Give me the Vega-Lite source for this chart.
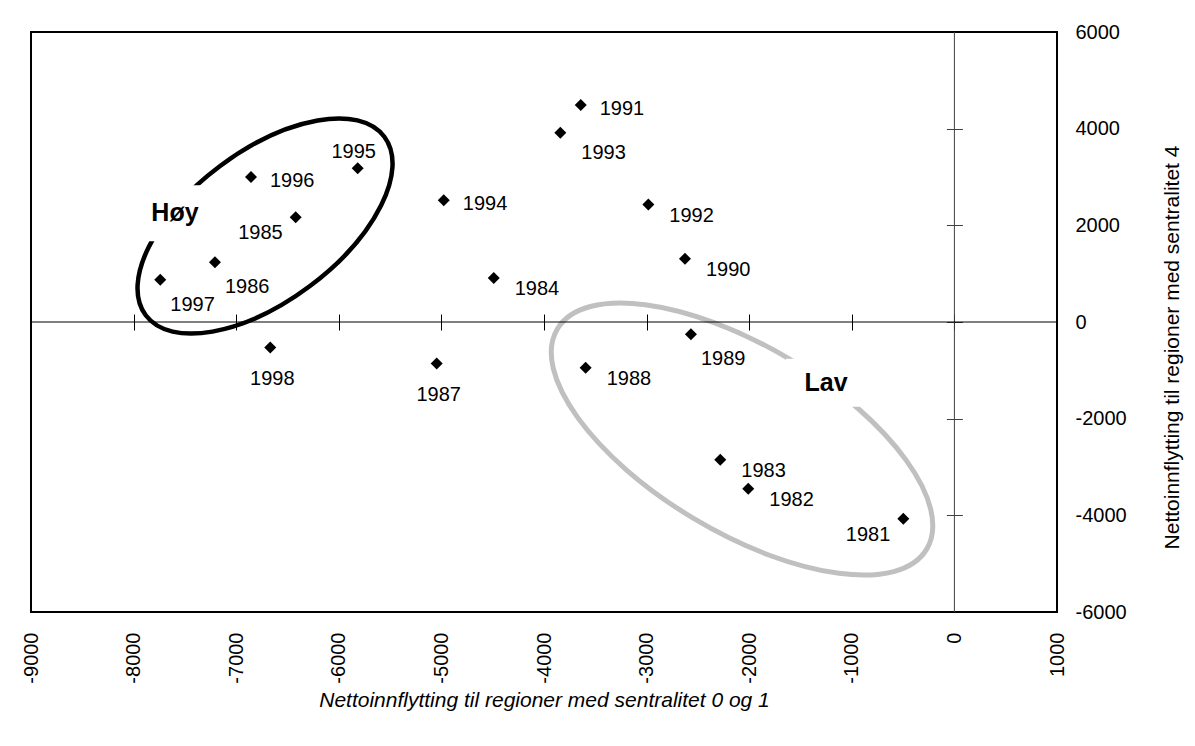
{
  "$schema": "https://vega.github.io/schema/vega-lite/v6.json",
  "width": 1026,
  "height": 580,
  "autosize": {"type": "none"},
  "padding": {"left": 31, "top": 32, "right": 138, "bottom": 134},
  "background": "white",
  "config": {
    "view": {"stroke": "black", "strokeWidth": 2, "fill": "white"},
    "font": "Liberation Sans, Arial, sans-serif"
  },
  "datasets": {
    "points": [
      {"year": "1981", "x": -498, "y": -4069, "pos": "SW"},
      {"year": "1982", "x": -2009, "y": -3449, "pos": "E2"},
      {"year": "1983", "x": -2282, "y": -2849, "pos": "E2"},
      {"year": "1984", "x": -4490, "y": 908, "pos": "E2"},
      {"year": "1985", "x": -6420, "y": 2169, "pos": "SW"},
      {"year": "1986", "x": -7207, "y": 1238, "pos": "SSE"},
      {"year": "1987", "x": -5046, "y": -858, "pos": "S"},
      {"year": "1988", "x": -3594, "y": -947, "pos": "E2"},
      {"year": "1989", "x": -2568, "y": -254, "pos": "SSE"},
      {"year": "1990", "x": -2626, "y": 1307, "pos": "E2"},
      {"year": "1991", "x": -3642, "y": 4491, "pos": "E"},
      {"year": "1992", "x": -2983, "y": 2429, "pos": "E2"},
      {"year": "1993", "x": -3841, "y": 3918, "pos": "SE"},
      {"year": "1994", "x": -4977, "y": 2518, "pos": "E"},
      {"year": "1995", "x": -5816, "y": 3182, "pos": "N"},
      {"year": "1996", "x": -6856, "y": 3002, "pos": "E"},
      {"year": "1997", "x": -7740, "y": 872, "pos": "SSE"},
      {"year": "1998", "x": -6668, "y": -527, "pos": "S"}
    ],
    "groups": [
      {"group": "Høy", "x": -6719, "y": 1986},
      {"group": "Lav", "x": -2070, "y": -2421}
    ],
    "labels": [
      {"label": "Høy", "x": -7597, "y": 2250},
      {"label": "Lav", "x": -1251, "y": -1255}
    ]
  },
  "layer": [
    {
      "encoding": {
        "x": {
          "field": "x", "type": "quantitative",
          "scale": {"domain": [-9000, 1000], "nice": false, "zero": false},
          "axis": {
            "orient": "bottom",
            "values": [-9000, -8000, -7000, -6000, -5000, -4000, -3000, -2000, -1000, 0, 1000],
            "labelExpr": "datum.value < 0 ? '-' + format(-datum.value, 'd') : format(datum.value, 'd')",
            "labelAngle": 270,
            "labelFontSize": 20,
            "labelColor": "black",
            "labelPadding": 20,
            "ticks": false,
            "tickSize": 0,
            "domain": false,
            "grid": false,
            "title": "Nettoinnflytting til regioner med sentralitet 0 og 1",
            "titleFontSize": 21,
            "titleFontStyle": "italic",
            "titleFontWeight": "normal",
            "titleColor": "black",
            "titlePadding": 6
          }
        },
        "y": {
          "field": "y", "type": "quantitative",
          "scale": {"domain": [-6000, 6000], "nice": false, "zero": false},
          "axis": {
            "orient": "right",
            "values": [-6000, -4000, -2000, 0, 2000, 4000, 6000],
            "labelExpr": "datum.value < 0 ? '-' + format(-datum.value, 'd') : format(datum.value, 'd')",
            "labelFontSize": 20,
            "labelColor": "black",
            "labelPadding": 18,
            "ticks": false,
            "tickSize": 0,
            "domain": false,
            "grid": false,
            "title": "Nettoinnflytting til regioner med sentralitet 4",
            "titleFontSize": 21,
            "titleFontWeight": "normal",
            "titleColor": "black",
            "titleAngle": 270,
            "titleBaseline": "top",
            "titlePadding": 35,
            "titleY": 315
          }
        }
      },
      "layer": [
        {
          "data": {"name": "groups"},
          "transform": [{"filter": "datum.group === 'Høy'"}],
          "mark": {
            "type": "point",
            "shape": "M 1 0 C 1 0.278 0.5523 0.5034 0 0.5034 C -0.5523 0.5034 -1 0.278 -1 0 C -1 -0.278 -0.5523 -0.5034 0 -0.5034 C 0.5523 -0.5034 1 -0.278 1 0 Z",
            "size": 88804,
            "angle": 323.2,
            "filled": false,
            "color": "black",
            "strokeWidth": 4.5,
            "opacity": 1
          }
        },
        {
          "data": {"name": "groups"},
          "transform": [{"filter": "datum.group === 'Lav'"}],
          "mark": {
            "type": "point",
            "shape": "M 1 0 C 1 0.2389 0.5523 0.4326 0 0.4326 C -0.5523 0.4326 -1 0.2389 -1 0 C -1 -0.2389 -0.5523 -0.4326 0 -0.4326 C 0.5523 -0.4326 1 -0.2389 1 0 Z",
            "size": 184900,
            "angle": 30.8,
            "filled": false,
            "color": "#c0c0c0",
            "strokeWidth": 5,
            "opacity": 1
          }
        },
        {
          "data": {"name": "labels"},
          "transform": [{"filter": "datum.label === 'Høy'"}],
          "mark": {
            "type": "point",
            "shape": "M -1 -0.8 L 1 -0.8 L 1 0.8 L -1 0.8 Z",
            "size": 4900,
            "filled": true,
            "color": "white",
            "strokeWidth": 0,
            "opacity": 1
          }
        },
        {
          "data": {"name": "labels"},
          "transform": [{"filter": "datum.label === 'Lav'"}],
          "mark": {
            "type": "point",
            "shape": "M -1 -0.6 L 1 -0.6 L 1 0.6 L -1 0.6 Z",
            "size": 6400,
            "filled": true,
            "color": "white",
            "strokeWidth": 0,
            "opacity": 1
          }
        },
        {
          "data": {"name": "labels"},
          "mark": {
            "type": "text",
            "fontWeight": "bold",
            "fontSize": 25,
            "align": "center",
            "baseline": "middle",
            "color": "black"
          },
          "encoding": {"text": {"field": "label"}}
        },
        {
          "data": {"name": "points"},
          "mark": {"type": "point", "shape": "diamond", "filled": true, "color": "black", "size": 144, "opacity": 1}
        },
        {
          "data": {"name": "points"},
          "transform": [{"filter": "datum.pos === 'E'"}],
          "mark": {"type": "text", "fontSize": 20, "align": "left", "baseline": "middle", "dx": 19, "dy": 4, "color": "black"},
          "encoding": {"text": {"field": "year"}}
        },
        {
          "data": {"name": "points"},
          "transform": [{"filter": "datum.pos === 'E2'"}],
          "mark": {"type": "text", "fontSize": 20, "align": "left", "baseline": "middle", "dx": 21, "dy": 11, "color": "black"},
          "encoding": {"text": {"field": "year"}}
        },
        {
          "data": {"name": "points"},
          "transform": [{"filter": "datum.pos === 'SE'"}],
          "mark": {"type": "text", "fontSize": 20, "align": "left", "baseline": "middle", "dx": 21, "dy": 20, "color": "black"},
          "encoding": {"text": {"field": "year"}}
        },
        {
          "data": {"name": "points"},
          "transform": [{"filter": "datum.pos === 'SSE'"}],
          "mark": {"type": "text", "fontSize": 20, "align": "left", "baseline": "middle", "dx": 10, "dy": 25, "color": "black"},
          "encoding": {"text": {"field": "year"}}
        },
        {
          "data": {"name": "points"},
          "transform": [{"filter": "datum.pos === 'S'"}],
          "mark": {"type": "text", "fontSize": 20, "align": "center", "baseline": "middle", "dx": 2, "dy": 32, "color": "black"},
          "encoding": {"text": {"field": "year"}}
        },
        {
          "data": {"name": "points"},
          "transform": [{"filter": "datum.pos === 'N'"}],
          "mark": {"type": "text", "fontSize": 20, "align": "center", "baseline": "middle", "dx": -4, "dy": -16, "color": "black"},
          "encoding": {"text": {"field": "year"}}
        },
        {
          "data": {"name": "points"},
          "transform": [{"filter": "datum.pos === 'SW'"}],
          "mark": {"type": "text", "fontSize": 20, "align": "right", "baseline": "middle", "dx": -13, "dy": 16, "color": "black"},
          "encoding": {"text": {"field": "year"}}
        }
      ]
    },
    {
      "data": {"values": [{}]},
      "layer": [
        {
          "mark": {"type": "rule", "color": "#404040", "strokeWidth": 1},
          "encoding": {
            "x": {
              "datum": 0, "type": "quantitative",
              "scale": {"domain": [-9000, 1000], "nice": false, "zero": false},
              "axis": {
                "orient": "bottom", "offset": -298,
                "values": [-8000, -7000, -6000, -5000, -4000, -3000, -2000, -1000, 0],
                "ticks": true, "tickSize": 16, "tickWidth": 1, "tickColor": "black",
                "labels": false, "domain": false, "grid": false, "title": null
              }
            }
          }
        },
        {
          "mark": {"type": "rule", "color": "black", "strokeWidth": 1},
          "encoding": {
            "y": {
              "datum": 0, "type": "quantitative",
              "scale": {"domain": [-6000, 6000], "nice": false, "zero": false},
              "axis": {
                "orient": "right", "offset": -110.6,
                "values": [-4000, -2000, 0, 2000, 4000],
                "ticks": true, "tickSize": 16, "tickWidth": 1, "tickColor": "#404040",
                "labels": false, "domain": false, "grid": false, "title": null
              }
            }
          }
        }
      ]
    }
  ],
  "resolve": {"axis": {"x": "independent", "y": "independent"}}
}
